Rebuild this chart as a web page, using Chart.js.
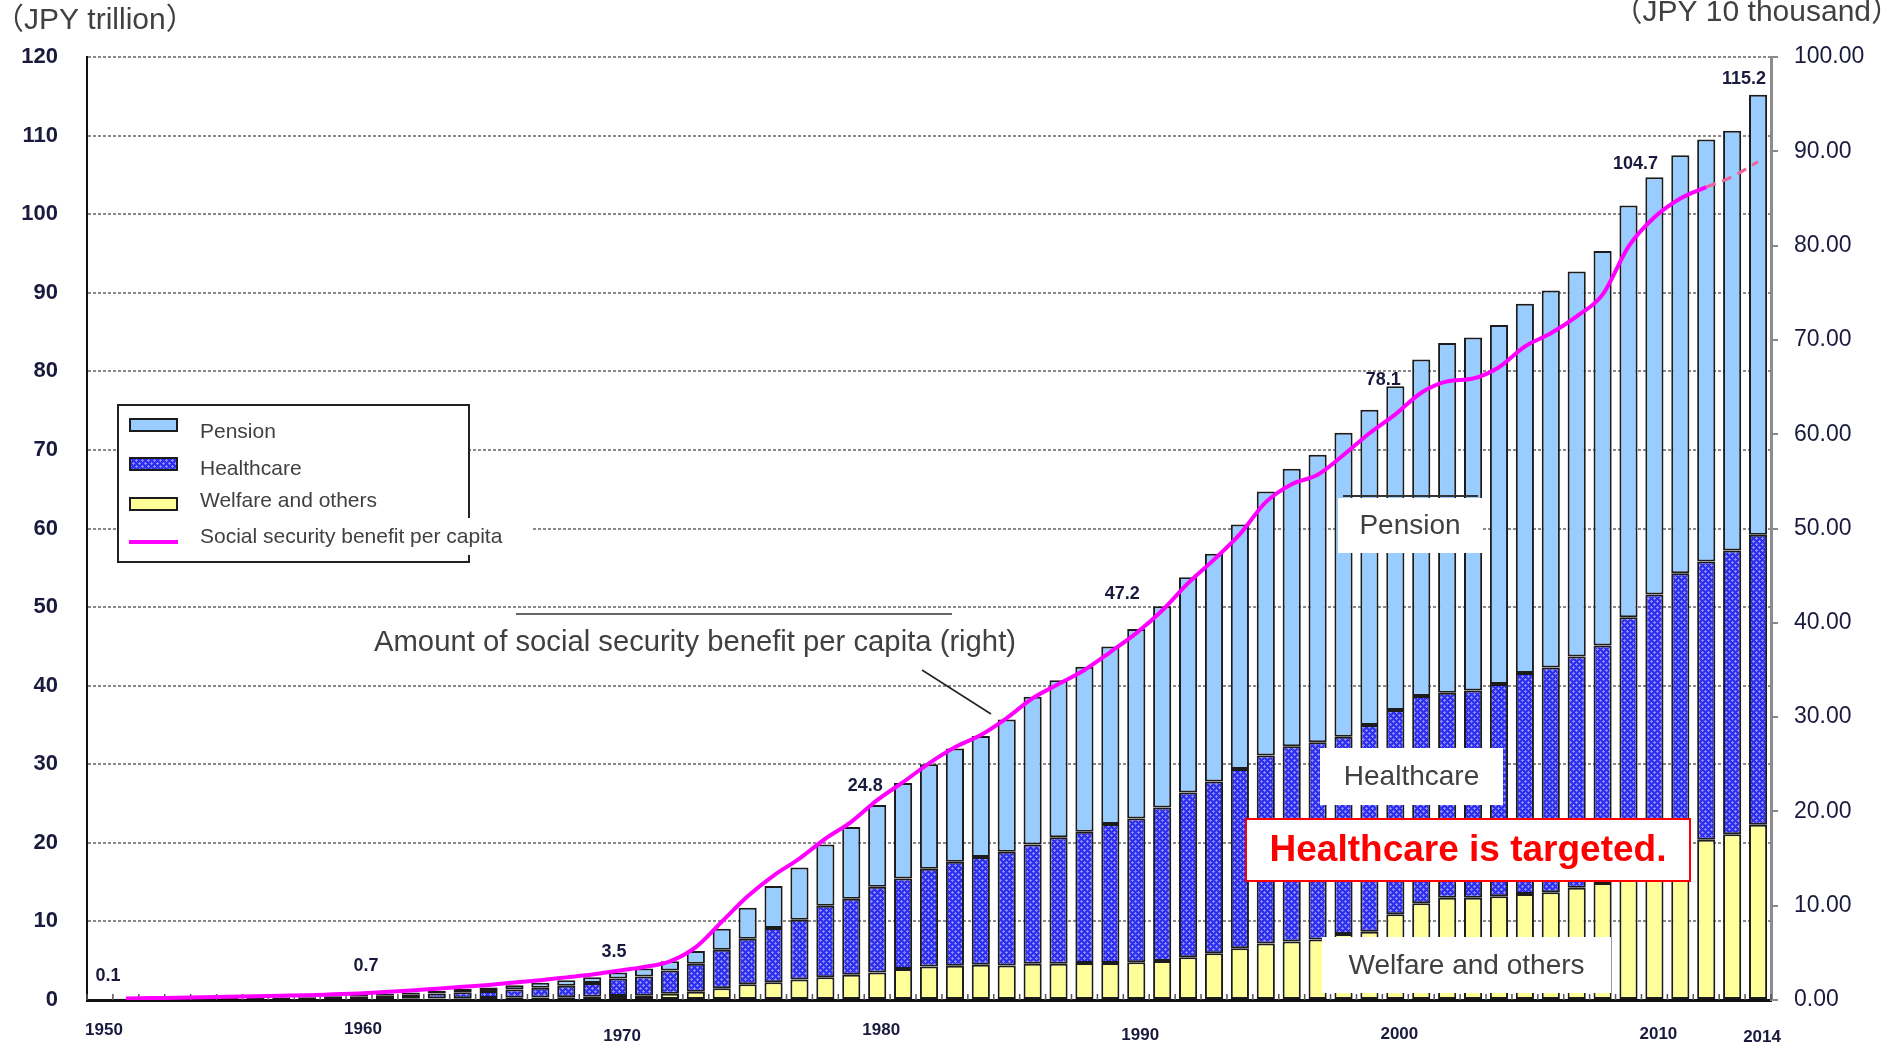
<!DOCTYPE html>
<html>
<head>
<meta charset="utf-8">
<script src="https://cdn.jsdelivr.net/npm/chart.js@4.4.1/dist/chart.umd.min.js"></script>
<style>
  html, body { margin: 0; padding: 0; background: #fff; }
  #wrap { position: relative; width: 1885px; height: 1046px; }
</style>
</head>
<body>
<div id="wrap"><canvas id="c" width="1885" height="1046"></canvas></div>
<script>
// Fiscal years
const years = ['1950','1951','1952','1953','1954','1955','1956','1957','1958','1959',
  '1960','1961','1962','1963','1964','1965','1966','1967','1968','1969',
  '1970','1971','1972','1973','1974','1975','1976','1977','1978','1979',
  '1980','1981','1982','1983','1984','1985','1986','1987','1988','1989',
  '1990','1991','1992','1993','1994','1995','1996','1997','1998','1999',
  '2000','2001','2002','2003','2004','2005','2006','2007','2008','2009',
  '2010','2011','2012','2013','2014'];

// Social security benefit by category (JPY trillion)
const welfare = [0.03,0.04,0.05,0.06,0.07,0.08,0.08,0.09,0.10,0.11,
  0.12,0.14,0.16,0.19,0.22,0.25,0.28,0.32,0.36,0.42,
  0.5,0.55,0.8,1.05,1.5,2.0,2.25,2.6,2.9,3.2,
  3.5,3.95,4.25,4.35,4.5,4.4,4.6,4.6,4.7,4.7,
  4.8,4.95,5.45,5.95,6.6,7.2,7.45,7.7,8.4,8.7,
  10.9,12.3,13.0,13.0,13.2,13.5,13.7,14.3,14.9,17.5,
  18.6,19.8,20.4,21.1,22.3];

const healthcare = [0.05,0.08,0.11,0.15,0.18,0.21,0.21,0.23,0.26,0.29,
  0.36,0.41,0.50,0.63,0.76,0.88,1.05,1.23,1.44,1.73,
  2.25,2.45,2.95,3.55,4.9,5.8,6.9,7.6,9.1,9.7,
  10.9,11.5,12.45,13.25,13.7,14.45,15.2,16.1,16.7,17.7,
  18.3,19.55,20.95,21.85,22.8,23.9,24.85,25.1,25.1,26.3,
  26.0,26.4,26.1,26.4,27.0,28.1,28.6,29.4,30.2,31.2,
  33.0,34.5,35.4,36.1,36.9];

const pension = [0.02,0.04,0.06,0.07,0.08,0.10,0.11,0.12,0.14,0.17,
  0.22,0.24,0.29,0.34,0.41,0.47,0.55,0.63,0.72,0.74,
  0.75,1.02,1.18,1.64,2.66,3.94,5.35,6.65,7.8,9.1,
  10.4,12.15,13.3,14.4,15.4,16.85,18.8,20.0,21.0,22.6,
  24.1,25.6,27.4,29.0,31.1,33.6,35.3,36.6,38.7,40.1,
  41.2,42.8,44.5,44.9,45.7,47.0,48.0,49.0,50.2,52.4,
  53.1,53.2,53.7,53.4,56.0];

// Social security benefit per capita (JPY 10 thousand)
const perCapita = [null,0.15,0.2,0.25,0.3,0.35,0.4,0.45,0.5,0.6,
  0.7,0.85,1.0,1.2,1.4,1.6,1.85,2.1,2.4,2.7,
  3.1,3.5,4.1,5.6,8.3,11.0,13.2,15.0,17.1,18.9,
  21.2,23.1,25.1,26.8,28.1,29.9,32.0,33.5,35.0,36.9,
  38.9,41.3,44.2,46.7,49.4,52.8,54.7,55.7,57.8,60.1,
  62.1,64.4,65.6,65.9,67.1,69.3,70.7,72.5,74.8,79.9,
  83.0,85.0,86.2,87.3,88.9];

// Years whose total is printed above the bar, and years shown on the x axis
const labelledYears = ['1950','1960','1970','1980','1990','2000','2010','2014'];
const axisYears = ['1950','1960','1970','1980','1990','2000','2010','2014'];
// Per-capita line turns into a dashed estimate from this year on
const estimateFrom = '2012';

const leftTicks = { min: 0, max: 120, step: 10 };
const rightTicks = { min: 0, max: 100, step: 10 };

// ---------------------------------------------------------------------------
const canvas = document.getElementById('c');
const mainCtx = canvas.getContext('2d');

function hatchPattern() {
  const t = document.createElement('canvas');
  t.width = 6; t.height = 6;
  const g = t.getContext('2d');
  g.fillStyle = '#2f2ff0';
  g.fillRect(0, 0, 6, 6);
  g.fillStyle = '#8a8aff';
  [[1,0],[0,1],[1,1],[2,1],[1,2],[4,3],[3,4],[4,4],[5,4],[4,5]].forEach(([a, b]) => g.fillRect(a, b, 1, 1));
  return mainCtx.createPattern(t, 'repeat');
}
const hatch = hatchPattern();

const COL = {
  pension: '#99ccff',
  welfare: '#ffff99',
  edge: '#1c1c1c',
  line: '#ff00ff',
  lineEst: '#f0629c',
  grid: '#8a8a8a',
  text: '#404040',
  tick: '#1a1a3e'
};
const SANS = '"Liberation Sans", Arial, sans-serif';
const SANS_CJK = '"Liberation Sans", "Noto Sans CJK JP", sans-serif';
const estIdx = years.indexOf(estimateFrom);

// Value label nudges (px) relative to the top centre of the bar
const labelNudge = {
  '1950': [8, -23], '1960': [7, -28], '1970': [-4, -20], '1980': [-12, -19],
  '1990': [-14, -35], '2000': [-12, -6], '2010': [-19, -13], '2014': [-14, -16]
};
// Year labels sit at slightly uneven depths below the axis
const yearLabelDrop = {
  '1950': 30, '1960': 29, '1970': 36, '1980': 30, '1990': 35, '2000': 34, '2010': 34, '2014': 37
};

const decor = {
  id: 'decor',
  beforeDraw(chart) {
    const ctx = chart.ctx;
    ctx.save();
    ctx.fillStyle = '#fff';
    ctx.fillRect(0, 0, chart.width, chart.height);
    ctx.restore();
  },
  beforeDatasetsDraw(chart) {
    // small inner ticks between the year slots on the x axis
    const ctx = chart.ctx, xs = chart.scales.x, ys = chart.scales.y;
    const half = (xs.getPixelForValue(1) - xs.getPixelForValue(0)) / 2;
    ctx.save();
    ctx.strokeStyle = '#555';
    ctx.lineWidth = 1.5;
    for (let i = 0; i <= years.length; i++) {
      const bx = xs.getPixelForValue(i) - half;
      ctx.beginPath();
      ctx.moveTo(bx, ys.bottom);
      ctx.lineTo(bx, ys.bottom - 6);
      ctx.stroke();
    }
    ctx.restore();
  },
  afterDatasetsDraw(chart) {
    const ctx = chart.ctx, xs = chart.scales.x, ys = chart.scales.y;
    ctx.save();

    // totals above selected bars
    ctx.font = 'bold 18px ' + SANS;
    ctx.fillStyle = COL.tick;
    ctx.textAlign = 'center';
    ctx.textBaseline = 'middle';
    labelledYears.forEach(yr => {
      const i = years.indexOf(yr);
      const total = welfare[i] + healthcare[i] + pension[i];
      const [dx, dy] = labelNudge[yr] || [0, -18];
      ctx.fillText(total.toFixed(1), xs.getPixelForValue(i) + dx, ys.getPixelForValue(total) + dy);
    });

    // year labels under the axis
    ctx.font = 'bold 17px ' + SANS;
    axisYears.forEach(yr => {
      const i = years.indexOf(yr);
      ctx.fillText(yr, xs.getPixelForValue(i) + 4, ys.bottom + yearLabelDrop[yr]);
    });

    // category call-outs
    function box(x, y, w, h, txt, font, color, border) {
      ctx.fillStyle = '#fff';
      ctx.fillRect(x, y, w, h);
      if (border) {
        ctx.strokeStyle = border;
        ctx.lineWidth = 2;
        ctx.strokeRect(x, y, w, h);
      }
      ctx.font = font;
      ctx.fillStyle = color;
      ctx.textAlign = 'center';
      ctx.textBaseline = 'middle';
      ctx.fillText(txt, x + w / 2, y + h / 2 + 1);
    }
    ctx.strokeStyle = '#333';
    ctx.lineWidth = 2;
    ctx.beginPath(); ctx.moveTo(1343, 496); ctx.lineTo(1478, 496); ctx.stroke();
    box(1338, 498, 144, 55, 'Pension', '28px ' + SANS, COL.text);
    box(1320, 748, 183, 57, 'Healthcare', '28px ' + SANS, COL.text);
    box(1322, 937, 289, 56, 'Welfare and others', '28px ' + SANS, COL.text);
    box(1246, 819, 444, 62, 'Healthcare is targeted.', 'bold 37px ' + SANS, '#ff0000', '#ff0000');

    // per-capita call-out with leader
    ctx.strokeStyle = '#333';
    ctx.lineWidth = 1.5;
    ctx.beginPath(); ctx.moveTo(516, 614); ctx.lineTo(952, 614); ctx.stroke();
    ctx.font = '30px ' + SANS;
    ctx.fillStyle = COL.text;
    ctx.textAlign = 'center';
    ctx.textBaseline = 'middle';
    ctx.fillText('Amount of social security benefit per capita (right)', 695, 643, 642);
    ctx.strokeStyle = '#222';
    ctx.lineWidth = 1.5;
    ctx.beginPath(); ctx.moveTo(922, 670); ctx.lineTo(991, 714); ctx.stroke();

    // legend
    const L = { x: 118, y: 405, w: 351, h: 157 };
    ctx.fillStyle = '#fff';
    ctx.fillRect(L.x, L.y, L.w, L.h);
    ctx.strokeStyle = '#222';
    ctx.lineWidth = 2;
    ctx.strokeRect(L.x, L.y, L.w, L.h);
    ctx.fillStyle = '#fff';
    ctx.fillRect(196, 518, 336, 37);
    const rows = [
      { t: 'Pension', fill: COL.pension, ty: 432, sy: 425 },
      { t: 'Healthcare', fill: hatch, ty: 469, sy: 464 },
      { t: 'Welfare and others', fill: COL.welfare, ty: 501, sy: 504 },
      { t: 'Social security benefit per capita', line: true, ty: 537, sy: 542 }
    ];
    ctx.font = '21px ' + SANS;
    ctx.textAlign = 'left';
    ctx.textBaseline = 'middle';
    rows.forEach(r => {
      if (r.line) {
        ctx.strokeStyle = COL.line;
        ctx.lineWidth = 4;
        ctx.beginPath(); ctx.moveTo(129, r.sy); ctx.lineTo(178, r.sy); ctx.stroke();
      } else {
        ctx.fillStyle = r.fill;
        ctx.fillRect(130, r.sy - 6, 47, 12);
        ctx.strokeStyle = COL.edge;
        ctx.lineWidth = 2;
        ctx.strokeRect(130, r.sy - 6, 47, 12);
      }
      ctx.fillStyle = COL.text;
      ctx.fillText(r.t, 200, r.ty);
    });
    ctx.restore();
  },
  afterDraw(chart) {
    const ctx = chart.ctx;
    ctx.save();
    ctx.font = '30px ' + SANS_CJK;
    ctx.fillStyle = COL.text;
    ctx.textBaseline = 'middle';
    ctx.textAlign = 'left';
    ctx.fillText('（JPY trillion）', -6, 21);
    ctx.textAlign = 'right';
    ctx.fillText('（JPY 10 thousand）', 1901, 13);
    ctx.restore();
  }
};

const barCommon = {
  type: 'bar',
  stack: 'benefit',
  borderColor: COL.edge,
  borderWidth: 2,
  borderSkipped: false,
  barPercentage: 0.7,
  categoryPercentage: 1.0,
  order: 2,
  yAxisID: 'y'
};

new Chart(canvas, {
  data: {
    labels: years,
    datasets: [
      { ...barCommon, label: 'Welfare and others', data: welfare, backgroundColor: COL.welfare },
      { ...barCommon, label: 'Healthcare', data: healthcare, backgroundColor: hatch },
      { ...barCommon, label: 'Pension', data: pension, backgroundColor: COL.pension },
      {
        type: 'line',
        label: 'Social security benefit per capita',
        data: perCapita,
        yAxisID: 'y1',
        order: 0,
        borderColor: COL.line,
        borderWidth: 4,
        pointRadius: 0,
        fill: false,
        tension: 0.4,
        cubicInterpolationMode: 'monotone',
        spanGaps: false,
        segment: {
          borderColor: c => (c.p0DataIndex >= estIdx ? COL.lineEst : undefined),
          borderDash: c => (c.p0DataIndex >= estIdx ? [10, 7] : undefined),
          borderWidth: c => (c.p0DataIndex >= estIdx ? 3 : undefined)
        }
      }
    ]
  },
  options: {
    responsive: false,
    devicePixelRatio: 1,
    animation: false,
    layout: { padding: { top: 57, left: 0, right: 0, bottom: 0 } },
    plugins: { legend: { display: false }, tooltip: { enabled: false } },
    scales: {
      x: {
        stacked: true,
        offset: true,
        grid: { display: true, drawOnChartArea: false, drawTicks: false },
        border: { display: true, color: '#111', width: 3 },
        ticks: { display: false },
        afterFit: s => { s.height = 46; }
      },
      y: {
        position: 'left',
        stacked: true,
        min: leftTicks.min,
        max: leftTicks.max,
        ticks: {
          stepSize: leftTicks.step,
          padding: 29,
          color: COL.tick,
          font: { family: SANS, size: 22, weight: 'bold' }
        },
        grid: { color: COL.grid, lineWidth: 2, drawTicks: false },
        border: { display: true, color: '#111', width: 2, dash: [3, 2] },
        afterFit: s => { s.width = 87; }
      },
      y1: {
        position: 'right',
        min: rightTicks.min,
        max: rightTicks.max,
        ticks: {
          stepSize: rightTicks.step,
          padding: 16,
          color: COL.tick,
          font: { family: SANS, size: 23 },
          callback: v => Number(v).toFixed(2)
        },
        grid: { drawOnChartArea: false, drawTicks: true, tickLength: 7, color: '#888', lineWidth: 2 },
        border: { display: true, color: '#8c8c8c', width: 3 },
        afterFit: s => { s.width = 114; }
      }
    }
  },
  plugins: [decor]
});
</script>
</body>
</html>
